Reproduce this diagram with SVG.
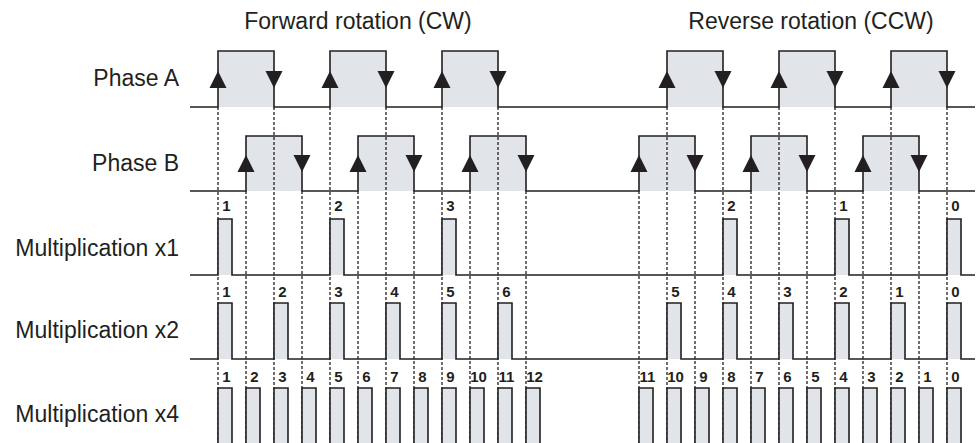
<svg xmlns="http://www.w3.org/2000/svg" width="980" height="443" viewBox="0 0 980 443">
<defs>
<style>
.lbl{font-family:"Liberation Sans",Arial,sans-serif;font-size:23px;fill:#231f20}
.num{font-family:"Liberation Sans",Arial,sans-serif;font-size:15px;font-weight:bold;fill:#231f20;text-anchor:middle}
.wave{fill:none;stroke:#231f20;stroke-width:1.6}
.shade{fill:#e1e4e9;stroke:none}
.dash{stroke:#231f20;stroke-width:1.3;stroke-dasharray:3 2;fill:none}
.arr{fill:#231f20}
</style>
<path id="up" d="M0,0 L8.5,17 L-8.5,17 Z"/>
<path id="dn" d="M-8.5,0 L8.5,0 L0,17 Z"/>
</defs>
<rect width="980" height="443" fill="#fff"/>

<g id="titles">
<text class="lbl" x="358" y="29" text-anchor="middle">Forward rotation (CW)</text>
<text class="lbl" x="811" y="29" text-anchor="middle">Reverse rotation (CCW)</text>
</g>

<g id="row-labels">
<text class="lbl" x="179" y="86" text-anchor="end">Phase A</text>
<text class="lbl" x="179" y="171" text-anchor="end">Phase B</text>
<text class="lbl" x="179" y="256" text-anchor="end">Multiplication x1</text>
<text class="lbl" x="179" y="338" text-anchor="end">Multiplication x2</text>
<text class="lbl" x="179" y="422" text-anchor="end">Multiplication x4</text>
</g>

<g id="shading">
<rect class="shade" x="218" y="51" width="56" height="56"/>
<rect class="shade" x="330" y="51" width="56" height="56"/>
<rect class="shade" x="442" y="51" width="56" height="56"/>
<rect class="shade" x="667" y="51" width="56" height="56"/>
<rect class="shade" x="779" y="51" width="56" height="56"/>
<rect class="shade" x="891" y="51" width="56" height="56"/>
<rect class="shade" x="246" y="136" width="56" height="55"/>
<rect class="shade" x="358" y="136" width="56" height="55"/>
<rect class="shade" x="470" y="136" width="56" height="55"/>
<rect class="shade" x="639" y="136" width="56" height="55"/>
<rect class="shade" x="751" y="136" width="56" height="55"/>
<rect class="shade" x="863" y="136" width="56" height="55"/>
</g>

<g id="connectors">
<path class="dash" d="M218,107V443M274,107V443M330,107V443M386,107V443M442,107V443M498,107V443M667,107V443M723,107V443M779,107V443M835,107V443M891,107V443M947,107V443"/>
<path class="dash" d="M246,191V443M302,191V443M358,191V443M414,191V443M470,191V443M526,191V443M639,191V443M695,191V443M751,191V443M807,191V443M863,191V443M919,191V443"/>
</g>

<g id="phaseA">
<path class="wave" d="M190,107H218V51H274V107H330V51H386V107H442V51H498V107H667V51H723V107H779V51H835V107H891V51H947V107H975"/>
<use href="#up" class="arr" x="218" y="71"/>
<use href="#dn" class="arr" x="274" y="71"/>
<use href="#up" class="arr" x="330" y="71"/>
<use href="#dn" class="arr" x="386" y="71"/>
<use href="#up" class="arr" x="442" y="71"/>
<use href="#dn" class="arr" x="498" y="71"/>
<use href="#up" class="arr" x="667" y="71"/>
<use href="#dn" class="arr" x="723" y="71"/>
<use href="#up" class="arr" x="779" y="71"/>
<use href="#dn" class="arr" x="835" y="71"/>
<use href="#up" class="arr" x="891" y="71"/>
<use href="#dn" class="arr" x="947" y="71"/>
</g>

<g id="phaseB">
<path class="wave" d="M190,191H246V136H302V191H358V136H414V191H470V136H526V191H639V136H695V191H751V136H807V191H863V136H919V191H975"/>
<use href="#up" class="arr" x="246" y="155"/>
<use href="#dn" class="arr" x="302" y="155"/>
<use href="#up" class="arr" x="358" y="155"/>
<use href="#dn" class="arr" x="414" y="155"/>
<use href="#up" class="arr" x="470" y="155"/>
<use href="#dn" class="arr" x="526" y="155"/>
<use href="#up" class="arr" x="639" y="155"/>
<use href="#dn" class="arr" x="695" y="155"/>
<use href="#up" class="arr" x="751" y="155"/>
<use href="#dn" class="arr" x="807" y="155"/>
<use href="#up" class="arr" x="863" y="155"/>
<use href="#dn" class="arr" x="919" y="155"/>
</g>

<g id="mult-x1">
<rect class="shade" x="218" y="219" width="14" height="56"/>
<rect class="shade" x="330" y="219" width="14" height="56"/>
<rect class="shade" x="442" y="219" width="14" height="56"/>
<rect class="shade" x="723" y="219" width="14" height="56"/>
<rect class="shade" x="835" y="219" width="14" height="56"/>
<rect class="shade" x="947" y="219" width="14" height="56"/>
<path class="wave" d="M190,275H218V219H232V275H330V219H344V275H442V219H456V275H723V219H737V275H835V219H849V275H947V219H961V275H975"/>
<text class="num" x="226.5" y="211">1</text>
<text class="num" x="338.5" y="211">2</text>
<text class="num" x="450.5" y="211">3</text>
<text class="num" x="731.5" y="211">2</text>
<text class="num" x="843.5" y="211">1</text>
<text class="num" x="955.5" y="211">0</text>
</g>

<g id="mult-x2">
<rect class="shade" x="218" y="303" width="14" height="56"/>
<rect class="shade" x="274" y="303" width="14" height="56"/>
<rect class="shade" x="330" y="303" width="14" height="56"/>
<rect class="shade" x="386" y="303" width="14" height="56"/>
<rect class="shade" x="442" y="303" width="14" height="56"/>
<rect class="shade" x="498" y="303" width="14" height="56"/>
<rect class="shade" x="667" y="303" width="14" height="56"/>
<rect class="shade" x="723" y="303" width="14" height="56"/>
<rect class="shade" x="779" y="303" width="14" height="56"/>
<rect class="shade" x="835" y="303" width="14" height="56"/>
<rect class="shade" x="891" y="303" width="14" height="56"/>
<rect class="shade" x="947" y="303" width="14" height="56"/>
<path class="wave" d="M190,359H218V303H232V359H274V303H288V359H330V303H344V359H386V303H400V359H442V303H456V359H498V303H512V359H667V303H681V359H723V303H737V359H779V303H793V359H835V303H849V359H891V303H905V359H947V303H961V359H975"/>
<text class="num" x="226.5" y="297">1</text>
<text class="num" x="282.5" y="297">2</text>
<text class="num" x="338.5" y="297">3</text>
<text class="num" x="394.5" y="297">4</text>
<text class="num" x="450.5" y="297">5</text>
<text class="num" x="506.5" y="297">6</text>
<text class="num" x="675.5" y="297">5</text>
<text class="num" x="731.5" y="297">4</text>
<text class="num" x="787.5" y="297">3</text>
<text class="num" x="843.5" y="297">2</text>
<text class="num" x="899.5" y="297">1</text>
<text class="num" x="955.5" y="297">0</text>
</g>

<g id="mult-x4">
<g>
<rect class="shade" x="218" y="388" width="14" height="60"/>
<rect class="shade" x="246" y="388" width="14" height="60"/>
<rect class="shade" x="274" y="388" width="14" height="60"/>
<rect class="shade" x="302" y="388" width="14" height="60"/>
<rect class="shade" x="330" y="388" width="14" height="60"/>
<rect class="shade" x="358" y="388" width="14" height="60"/>
<rect class="shade" x="386" y="388" width="14" height="60"/>
<rect class="shade" x="414" y="388" width="14" height="60"/>
<rect class="shade" x="442" y="388" width="14" height="60"/>
<rect class="shade" x="470" y="388" width="14" height="60"/>
<rect class="shade" x="498" y="388" width="14" height="60"/>
<rect class="shade" x="526" y="388" width="14" height="60"/>
<rect class="shade" x="639" y="388" width="14" height="60"/>
<rect class="shade" x="667" y="388" width="14" height="60"/>
<rect class="shade" x="695" y="388" width="14" height="60"/>
<rect class="shade" x="723" y="388" width="14" height="60"/>
<rect class="shade" x="751" y="388" width="14" height="60"/>
<rect class="shade" x="779" y="388" width="14" height="60"/>
<rect class="shade" x="807" y="388" width="14" height="60"/>
<rect class="shade" x="835" y="388" width="14" height="60"/>
<rect class="shade" x="863" y="388" width="14" height="60"/>
<rect class="shade" x="891" y="388" width="14" height="60"/>
<rect class="shade" x="919" y="388" width="14" height="60"/>
<rect class="shade" x="947" y="388" width="14" height="60"/>
</g>
<path class="wave" d="M218,448V388H232V448M246,448V388H260V448M274,448V388H288V448M302,448V388H316V448M330,448V388H344V448M358,448V388H372V448M386,448V388H400V448M414,448V388H428V448M442,448V388H456V448M470,448V388H484V448M498,448V388H512V448M526,448V388H540V448M639,448V388H653V448M667,448V388H681V448M695,448V388H709V448M723,448V388H737V448M751,448V388H765V448M779,448V388H793V448M807,448V388H821V448M835,448V388H849V448M863,448V388H877V448M891,448V388H905V448M919,448V388H933V448M947,448V388H961V448"/>
<text class="num" x="226.5" y="382">1</text>
<text class="num" x="254.5" y="382">2</text>
<text class="num" x="282.5" y="382">3</text>
<text class="num" x="310.5" y="382">4</text>
<text class="num" x="338.5" y="382">5</text>
<text class="num" x="366.5" y="382">6</text>
<text class="num" x="394.5" y="382">7</text>
<text class="num" x="422.5" y="382">8</text>
<text class="num" x="450.5" y="382">9</text>
<text class="num" x="478.5" y="382">10</text>
<text class="num" x="506.5" y="382">11</text>
<text class="num" x="534.5" y="382">12</text>
<text class="num" x="647.5" y="382">11</text>
<text class="num" x="675.5" y="382">10</text>
<text class="num" x="703.5" y="382">9</text>
<text class="num" x="731.5" y="382">8</text>
<text class="num" x="759.5" y="382">7</text>
<text class="num" x="787.5" y="382">6</text>
<text class="num" x="815.5" y="382">5</text>
<text class="num" x="843.5" y="382">4</text>
<text class="num" x="871.5" y="382">3</text>
<text class="num" x="899.5" y="382">2</text>
<text class="num" x="927.5" y="382">1</text>
<text class="num" x="955.5" y="382">0</text>
</g>
</svg>
